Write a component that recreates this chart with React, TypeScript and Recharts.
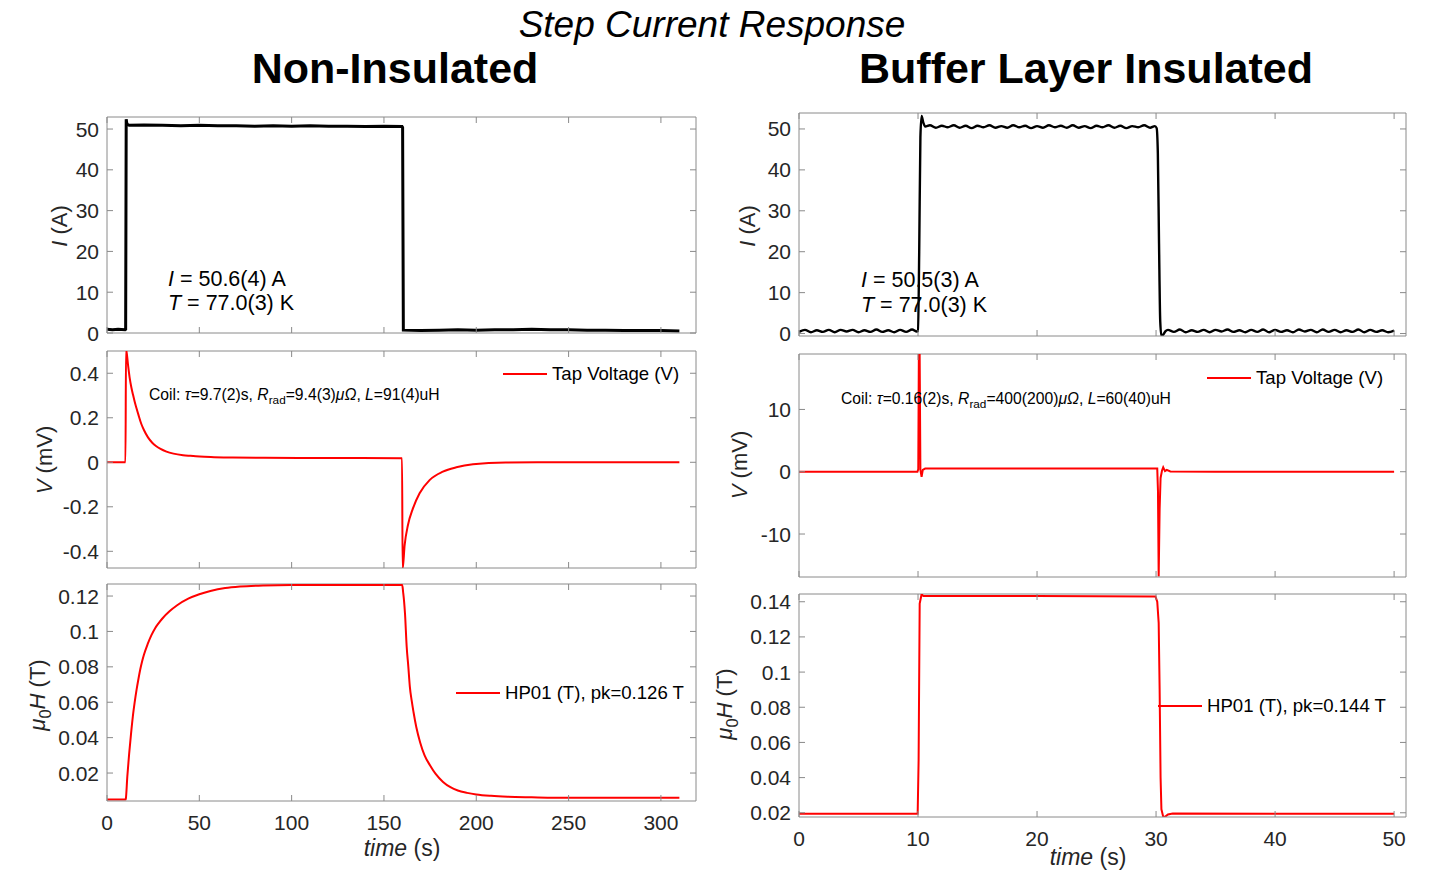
import React from 'react';
import { LineChart, Line, XAxis, YAxis, ReferenceLine } from 'recharts';

type Pt = [number, number];

// ---- Non-Insulated coil (left column), time in s ----
const leftTimeTicks = [0, 50, 100, 150, 200, 250, 300];
const leftCurrentTicks = [0, 10, 20, 30, 40, 50];
const leftVoltageTicks = [-0.4, -0.2, 0, 0.2, 0.4];
const leftFieldTicks = [0.02, 0.04, 0.06, 0.08, 0.1, 0.12];

const leftCurrent: Pt[] = [
  [0, 0.9], [3, 0.8], [6, 0.9], [9.8, 0.8], [10.1, 0.9], [10.4, 52.4], [10.8, 51.2], [12, 50.9],
  [20, 51.0], [30, 50.9], [40, 50.8], [50, 50.9], [60, 50.8], [70, 50.8], [80, 50.7], [90, 50.8],
  [100, 50.7], [110, 50.8], [120, 50.7], [130, 50.7], [140, 50.6], [150, 50.7], [159.8, 50.6],
  [160.1, 50.4], [160.5, 0.7], [170, 0.6], [180, 0.7], [190, 0.8], [200, 0.7], [210, 0.8], [220, 0.8],
  [230, 0.9], [240, 0.8], [250, 0.8], [260, 0.7], [270, 0.7], [280, 0.6], [290, 0.6], [300, 0.6], [310, 0.5],
];

const leftVoltage: Pt[] = [
  [0, 0], [10, 0], [10.3, 0.51], [11.4, 0.437], [12.3, 0.378], [13.2, 0.336], [14.1, 0.303], [15, 0.272],
  [15.9, 0.245], [17, 0.214], [18.6, 0.172], [20, 0.145], [22.2, 0.112], [24.5, 0.088], [26.7, 0.072],
  [29, 0.06], [32.2, 0.048], [36, 0.039], [41.2, 0.032], [45, 0.029], [50.2, 0.0255], [58, 0.023],
  [68, 0.021], [85, 0.02], [104, 0.0195], [130, 0.019], [159.8, 0.018], [160.1, -0.48], [161.2, -0.372],
  [163, -0.282], [165.7, -0.207], [169.3, -0.139], [174.7, -0.08], [181.9, -0.042], [189.2, -0.0225],
  [198.2, -0.009], [216, -0.001], [243, 0], [280, 0], [310, 0],
];

const leftField: Pt[] = [
  [0, 0.005], [10, 0.005], [10.2, 0.0055], [11, 0.018], [12, 0.031], [13, 0.042], [14, 0.052], [15, 0.06],
  [16, 0.067], [17, 0.073], [18, 0.0785], [19, 0.083], [20, 0.0868], [22, 0.0928], [24, 0.0978], [26, 0.1017],
  [28, 0.1047], [30, 0.1073], [34, 0.1115], [38, 0.1148], [44, 0.1185], [50, 0.121], [56, 0.1228],
  [64, 0.1245], [72, 0.1254], [85, 0.126], [100, 0.1262], [159.9, 0.1262], [160.4, 0.122], [160.9, 0.117],
  [161.4, 0.11], [162.3, 0.0915], [163.2, 0.08], [164, 0.069], [165, 0.061], [166, 0.0545], [167.5, 0.046],
  [169.6, 0.0373], [172, 0.03], [175, 0.0243], [178, 0.0195], [182, 0.015], [186, 0.012], [190, 0.0101],
  [195, 0.0088], [200, 0.0079], [208, 0.0071], [217, 0.0066], [230, 0.0063], [250, 0.006], [310, 0.006],
];

// ---- Buffer Layer Insulated coil (right column), time in s ----
const rightTimeTicks = [0, 10, 20, 30, 40, 50];
const rightCurrentTicks = [0, 10, 20, 30, 40, 50];
const rightVoltageTicks = [-10, 0, 10];
const rightFieldTicks = [0.02, 0.04, 0.06, 0.08, 0.1, 0.12, 0.14];

const rightCurrent: Pt[] = [
  [0, 0.4], [0.5, 0.9], [1, 0.3], [1.5, 0.8], [2, 0.4], [2.5, 0.9], [3, 0.3], [3.5, 0.9], [4, 0.5],
  [4.5, 0.9], [5, 0.3], [5.5, 0.8], [6, 0.4], [6.5, 1.0], [7, 0.4], [7.5, 0.8], [8, 0.3], [8.5, 0.9],
  [9, 0.4], [9.5, 1.0], [9.9, 0.5], [10.0, 0.6], [10.1, 20], [10.2, 48], [10.3, 53.2], [10.45, 51.5],
  [10.6, 50.6], [11, 50.9], [11.5, 50.3], [12, 50.8], [12.5, 50.4], [13, 50.9], [13.5, 50.3], [14, 50.8],
  [14.5, 50.2], [15, 50.8], [15.5, 50.4], [16, 50.9], [16.5, 50.3], [17, 50.7], [17.5, 50.3], [18, 50.9],
  [18.5, 50.4], [19, 50.8], [19.5, 50.2], [20, 50.7], [20.5, 50.3], [21, 50.9], [21.5, 50.4], [22, 50.8],
  [22.5, 50.3], [23, 50.9], [23.5, 50.3], [24, 50.7], [24.5, 50.2], [25, 50.8], [25.5, 50.4], [26, 50.9],
  [26.5, 50.3], [27, 50.8], [27.5, 50.2], [28, 50.7], [28.5, 50.4], [29, 50.9], [29.5, 50.3], [29.9, 50.7],
  [30.05, 50.2], [30.15, 44], [30.25, 22], [30.35, 3], [30.45, -0.6], [30.6, -0.3], [30.8, 0.6],
  [31, 0.9], [31.5, 0.4], [32, 1.0], [32.5, 0.3], [33, 0.8], [33.5, 0.4], [34, 0.9], [34.5, 0.3],
  [35, 0.9], [35.5, 0.5], [36, 1.0], [36.5, 0.4], [37, 0.8], [37.5, 0.3], [38, 0.9], [38.5, 0.4],
  [39, 1.0], [39.5, 0.3], [40, 0.9], [40.5, 0.4], [41, 0.8], [41.5, 0.3], [42, 1.0], [42.5, 0.5],
  [43, 0.9], [43.5, 0.3], [44, 1.0], [44.5, 0.4], [45, 0.9], [45.5, 0.3], [46, 0.8], [46.5, 0.4],
  [47, 1.0], [47.5, 0.3], [48, 0.9], [48.5, 0.4], [49, 0.8], [49.5, 0.3], [50, 0.7],
];

const rightVoltage: Pt[] = [
  [0, 0], [9.95, 0], [10.02, 0.4], [10.1, 30], [10.2, 0.3], [10.3, -0.8], [10.4, 0.3], [10.6, 0.5],
  [20, 0.5], [30.1, 0.5], [30.16, -3], [30.22, -16.8], [30.3, -6], [30.38, -1], [30.5, 0.2], [30.6, 0.7],
  [30.75, 0.1], [30.9, 0.3], [31.2, 0.05], [35, 0], [50, 0],
];

const rightField: Pt[] = [
  [0, 0.0194], [9.97, 0.0195], [10.05, 0.05], [10.14, 0.139], [10.3, 0.1443], [10.45, 0.1432],
  [20, 0.1432], [29.95, 0.143], [30.1, 0.14], [30.22, 0.128], [30.3, 0.09], [30.38, 0.04], [30.45, 0.022],
  [30.6, 0.0178], [30.75, 0.0177], [31.0, 0.019], [31.4, 0.0196], [40, 0.0195], [50, 0.0194],
];

const FONT = '"Liberation Sans", Arial, Helvetica, sans-serif';
const INK = '#262626';
const BOX = '#8a8a8a';
const RED = '#ff0000';

const PAD_L = 80;
const PAD_T = 10;
const PAD_R = 10;
const PAD_B = 40;

interface PanelProps {
  data: Pt[];
  color: string;
  lineWidth: number;
  x: number;
  y: number;
  w: number;
  h: number;
  xDomain: [number, number];
  yDomain: [number, number];
  xTicks: number[];
  yTicks: number[];
  xLabels: boolean;
  curve: 'linear' | 'monotone';
}

const Panel: React.FC<PanelProps> = ({ data, color, lineWidth, x, y, w, h, xDomain, yDomain, xTicks, yTicks, xLabels, curve }) => {
  const rows = data.map(([t, v]) => ({ t, v }));
  const bottom = PAD_T + h;

  // inward ticks on both sides, like the original MATLAB box
  const xTick = (p: any) => (
    <g>
      <line x1={p.x} x2={p.x} y1={bottom} y2={bottom - 6} stroke={BOX} />
      <line x1={p.x} x2={p.x} y1={PAD_T} y2={PAD_T + 6} stroke={BOX} />
      {xLabels && (
        <text x={p.x} y={bottom + 21} textAnchor="middle" dominantBaseline="central" fill={INK} fontSize={21} fontFamily={FONT}>
          {String(p.payload.value)}
        </text>
      )}
    </g>
  );

  const yTick = (p: any) => (
    <g>
      <line x1={PAD_L} x2={PAD_L + 6} y1={p.y} y2={p.y} stroke={BOX} />
      <line x1={PAD_L + w - 6} x2={PAD_L + w} y1={p.y} y2={p.y} stroke={BOX} />
      <text x={PAD_L - 8} y={p.y} textAnchor="end" dominantBaseline="central" fill={INK} fontSize={21} fontFamily={FONT}>
        {String(p.payload.value)}
      </text>
    </g>
  );

  return (
    <div style={{ position: 'absolute', left: x - PAD_L, top: y - PAD_T }}>
      <LineChart
        width={w + PAD_L + PAD_R}
        height={h + PAD_T + PAD_B}
        data={rows}
        margin={{ top: PAD_T, right: PAD_R, bottom: 0, left: 0 }}
      >
        <XAxis
          dataKey="t"
          type="number"
          domain={xDomain}
          ticks={xTicks}
          interval={0}
          allowDataOverflow
          height={PAD_B}
          tickLine={false}
          tickSize={0}
          tickMargin={0}
          axisLine={{ stroke: BOX }}
          tick={xTick}
        />
        <YAxis
          type="number"
          domain={yDomain}
          ticks={yTicks}
          interval={0}
          allowDataOverflow
          width={PAD_L}
          tickLine={false}
          tickSize={0}
          tickMargin={0}
          axisLine={{ stroke: BOX }}
          tick={yTick}
        />
        <ReferenceLine y={yDomain[1]} stroke={BOX} />
        <ReferenceLine x={xDomain[1]} stroke={BOX} />
        <Line
          dataKey="v"
          type={curve}
          stroke={color}
          strokeWidth={lineWidth}
          dot={false}
          isAnimationActive={false}
        />
      </LineChart>
    </div>
  );
};

const Txt: React.FC<{ x: number; y: number; size: number; rotate?: boolean; anchor?: 'start' | 'middle'; style?: React.CSSProperties; children: React.ReactNode }> = ({ x, y, size, rotate, anchor = 'middle', style, children }) => (
  <div
    style={{
      position: 'absolute',
      left: x,
      top: y,
      fontSize: size,
      lineHeight: 1,
      whiteSpace: 'nowrap',
      color: INK,
      transform: `translate(${anchor === 'middle' ? '-50%' : '0'}, -50%)${rotate ? ' rotate(-90deg)' : ''}`,
      ...style,
    }}
  >
    {children}
  </div>
);

const LegendItem: React.FC<{ x: number; y: number; label: string }> = ({ x, y, label }) => (
  <div style={{ position: 'absolute', left: x, top: y, transform: 'translateY(-50%)', display: 'flex', alignItems: 'center', fontSize: 18.6, color: '#000', whiteSpace: 'nowrap' }}>
    <span style={{ display: 'inline-block', width: 44, height: 2, background: RED, marginRight: 5 }} />
    {label}
  </div>
);

const sub: React.CSSProperties = { fontSize: '0.75em', verticalAlign: '-0.35em' };

export default function App() {
  return (
    <div style={{ position: 'absolute', left: 0, top: 0, width: 1435, height: 871, background: '#fff', fontFamily: FONT, overflow: 'hidden' }}>
      <Txt x={712} y={24} size={37} style={{ fontStyle: 'italic', color: '#000' }}>Step Current Response</Txt>
      <Txt x={395} y={68} size={43} style={{ fontWeight: 'bold', color: '#000' }}>Non-Insulated</Txt>
      <Txt x={1086} y={68} size={43} style={{ fontWeight: 'bold', color: '#000' }}>Buffer Layer Insulated</Txt>

      {/* left column */}
      <Panel data={leftCurrent} color="#000" lineWidth={3} x={107} y={117} w={589} h={216}
        xDomain={[0, 319]} yDomain={[0, 52.95]} xTicks={leftTimeTicks} yTicks={leftCurrentTicks} xLabels={false} curve="linear" />
      <Panel data={leftVoltage} color={RED} lineWidth={2} x={107} y={351} w={589} h={217}
        xDomain={[0, 319]} yDomain={[-0.475, 0.5]} xTicks={leftTimeTicks} yTicks={leftVoltageTicks} xLabels={false} curve="monotone" />
      <Panel data={leftField} color={RED} lineWidth={2} x={107} y={584} w={589} h={217}
        xDomain={[0, 319]} yDomain={[0.0042, 0.1268]} xTicks={leftTimeTicks} yTicks={leftFieldTicks} xLabels curve="monotone" />

      {/* right column */}
      <Panel data={rightCurrent} color="#000" lineWidth={2.4} x={799} y={113} w={607} h={223}
        xDomain={[0, 51]} yDomain={[-0.6, 53.9]} xTicks={rightTimeTicks} yTicks={rightCurrentTicks} xLabels={false} curve="monotone" />
      <Panel data={rightVoltage} color={RED} lineWidth={2} x={799} y={354} w={607} h={223}
        xDomain={[0, 51]} yDomain={[-16.9, 18.9]} xTicks={rightTimeTicks} yTicks={rightVoltageTicks} xLabels={false} curve="linear" />
      <Panel data={rightField} color={RED} lineWidth={2} x={799} y={594} w={607} h={223}
        xDomain={[0, 51]} yDomain={[0.0176, 0.1444]} xTicks={rightTimeTicks} yTicks={rightFieldTicks} xLabels curve="linear" />

      {/* axis titles */}
      <Txt x={60} y={226} size={22} rotate><i>I</i> (A)</Txt>
      <Txt x={45} y={460} size={22} rotate><i>V</i> (mV)</Txt>
      <Txt x={40} y={695} size={22} rotate><i>μ</i><span style={sub}>0</span><i>H</i> (T)</Txt>
      <Txt x={402} y={848} size={23}><i>time</i> (s)</Txt>
      <Txt x={748} y={226} size={22} rotate><i>I</i> (A)</Txt>
      <Txt x={740} y={465} size={22} rotate><i>V</i> (mV)</Txt>
      <Txt x={727} y={704} size={22} rotate><i>μ</i><span style={sub}>0</span><i>H</i> (T)</Txt>
      <Txt x={1088} y={857} size={23}><i>time</i> (s)</Txt>

      {/* annotations */}
      <Txt x={168} y={280} size={21.5} anchor="start" style={{ color: '#000' }}><i>I</i> = 50.6(4) A</Txt>
      <Txt x={168} y={304} size={21.5} anchor="start" style={{ color: '#000' }}><i>T</i> = 77.0(3) K</Txt>
      <Txt x={861} y={281} size={21.5} anchor="start" style={{ color: '#000' }}><i>I</i> = 50.5(3) A</Txt>
      <Txt x={861} y={306} size={21.5} anchor="start" style={{ color: '#000' }}><i>T</i> = 77.0(3) K</Txt>
      <Txt x={149} y={396} size={15.7} anchor="start" style={{ color: '#000' }}>
        Coil: <i>τ</i>=9.7(2)s, <i>R</i><span style={sub}>rad</span>=9.4(3)<i>μΩ</i>, <i>L</i>=91(4)uH
      </Txt>
      <Txt x={841} y={400} size={15.7} anchor="start" style={{ color: '#000' }}>
        Coil: <i>τ</i>=0.16(2)s, <i>R</i><span style={sub}>rad</span>=400(200)<i>μΩ</i>, <i>L</i>=60(40)uH
      </Txt>

      {/* legends */}
      <LegendItem x={503} y={374} label="Tap Voltage (V)" />
      <LegendItem x={456} y={693} label="HP01 (T), pk=0.126 T" />
      <LegendItem x={1207} y={378} label="Tap Voltage (V)" />
      <LegendItem x={1158} y={706} label="HP01 (T), pk=0.144 T" />
    </div>
  );
}
